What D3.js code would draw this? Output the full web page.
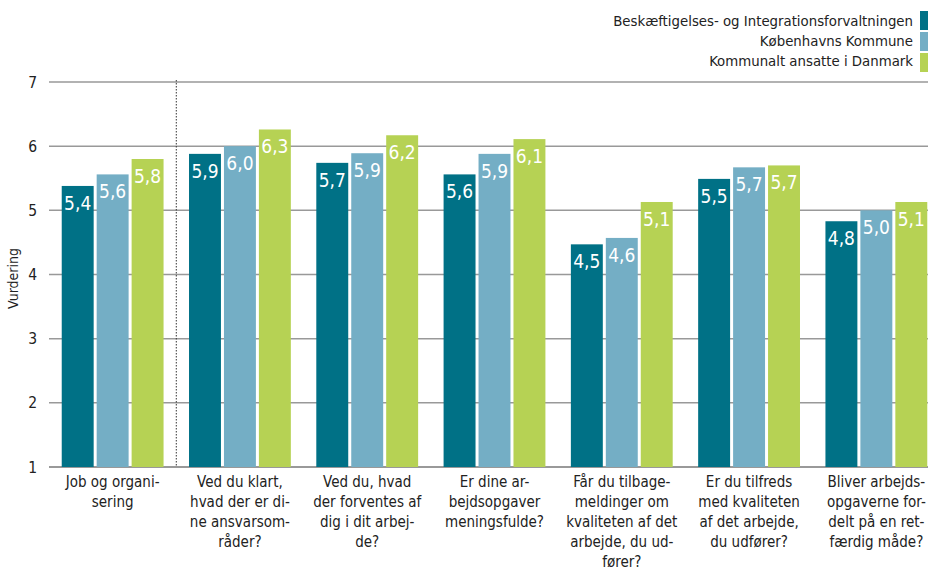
<!DOCTYPE html>
<html>
<head>
<meta charset="utf-8">
<script src="https://cdn.jsdelivr.net/npm/d3@7"></script>
<style>
  body { margin: 0; background: #fff; }
  svg { display: block; font-family: 'DejaVu Sans Condensed', 'DejaVu Sans', sans-serif; }
</style>
</head>
<body>
<div id="chart-container"></div>
<script>
'use strict'

var categories = [
    ['Job og organi-', 'sering'],
    ['Ved du klart,', 'hvad der er di-', 'ne ansvarsom-', 'råder?'],
    ['Ved du, hvad', 'der forventes af', 'dig i dit arbej-', 'de?'],
    ['Er dine ar-', 'bejdsopgaver', 'meningsfulde?'],
    ['Får du tilbage-', 'meldinger om', 'kvaliteten af det', 'arbejde, du ud-', 'fører?'],
    ['Er du tilfreds', 'med kvaliteten', 'af det arbejde,', 'du udfører?'],
    ['Bliver arbejds-', 'opgaverne for-', 'delt på en ret-', 'færdig måde?']
]

var seriesNames = ['Beskæftigelses- og Integrationsforvaltningen', 'Københavns Kommune', 'Kommunalt ansatte i Danmark']
var seriesColors = ['#007186', '#74aec5', '#b6d254']

var bif = [5.38, 5.88, 5.74, 5.56, 4.47, 5.49, 4.83]
var kk = [5.56, 6.0, 5.89, 5.88, 4.57, 5.67, 5.0]
var kad = [5.80, 6.26, 6.17, 6.11, 5.13, 5.70, 5.13]

var yTicks = [1, 2, 3, 4, 5, 6, 7]

var series = [bif, kk, kad]

var margins = { top: 82, left: 49 }
var height = 467 - margins.top
var plotWidth = 891

var svg = d3.select('#chart-container')
    .append('svg')
        .attr('width', 928)
        .attr('height', 567)

var chart = svg.append('g')
    .attr('transform', 'translate(' + margins.left + ',' + margins.top + ')')

let y = d3.scaleLinear()
    .range([height, 0])
    .domain([1, 7])

let x0 = d3.scaleBand()
    .domain(d3.range(categories.length))
    .range([0, plotWidth])
    .paddingInner(0.2)
    .paddingOuter(0.1)

let x1 = d3.scaleBand()
    .domain(d3.range(series.length))
    .range([0, x0.bandwidth()])
    .paddingInner(0.086)

// gridlines
chart.selectAll('.grid').data(yTicks)
    .enter().append('line')
    .attr('x1', 0)
    .attr('x2', plotWidth)
    .attr('y1', d => y(d))
    .attr('y2', d => y(d))
    .style('stroke', d => d === 1 ? '#777' : '#999')
    .style('stroke-width', 1.5)

// y axis labels
chart.selectAll('.ytick').data(yTicks)
    .enter().append('text')
    .attr('x', -12)
    .attr('y', d => y(d))
    .attr('dy', '0.36em')
    .style('text-anchor', 'end')
    .style('font-size', '15.5px')
    .style('fill', '#222')
    .text(d => d)

chart.append('text')
    .attr('transform', 'rotate(-90)')
    .attr('x', -height / 2 - 4)
    .attr('y', -31)
    .style('text-anchor', 'middle')
    .style('font-size', '14px')
    .style('fill', '#222')
    .text('Vurdering')

// dotted separator after first group
let sepX = (x0(0) + x0.bandwidth() + x0(1)) / 2
chart.append('line')
    .attr('x1', sepX).attr('x2', sepX)
    .attr('y1', -2).attr('y2', height)
    .style('stroke', '#333')
    .style('stroke-width', 1)
    .style('stroke-dasharray', '1.5,1.5')

// bars
var groups = chart.selectAll('.group').data(categories)
    .enter().append('g')
    .attr('transform', (d, i) => 'translate(' + x0(i) + ',0)')

groups.each(function(c, i) {
    let g = d3.select(this)
    series.forEach((s, j) => {
        g.append('rect')
            .attr('x', x1(j))
            .attr('y', y(s[i]))
            .attr('width', x1.bandwidth())
            .attr('height', height - y(s[i]))
            .style('fill', seriesColors[j])
        g.append('text')
            .attr('x', x1(j) + x1.bandwidth() / 2)
            .attr('y', y(s[i]) + 24)
            .style('text-anchor', 'middle')
            .style('font-size', '19px')
            .style('fill', '#fff')
            .text(s[i].toFixed(1).replace('.', ','))
    })
    let lbl = g.append('text')
        .style('text-anchor', 'middle')
        .style('font-size', '15px')
        .style('fill', '#222')
    c.forEach((line, k) => {
        lbl.append('tspan')
            .attr('x', x0.bandwidth() / 2)
            .attr('y', height + 20 + k * 20)
            .text(line)
    })
})

// legend
var legend = svg.append('g')
seriesNames.forEach((n, j) => {
    legend.append('rect')
        .attr('x', 920)
        .attr('y', 11 + j * 21)
        .attr('width', 8)
        .attr('height', 19)
        .style('fill', seriesColors[j])
    legend.append('text')
        .attr('x', 913)
        .attr('y', 26 + j * 20)
        .style('text-anchor', 'end')
        .style('font-size', '14.8px')
        .style('fill', '#222')
        .text(n)
})
</script>
</body>
</html>
